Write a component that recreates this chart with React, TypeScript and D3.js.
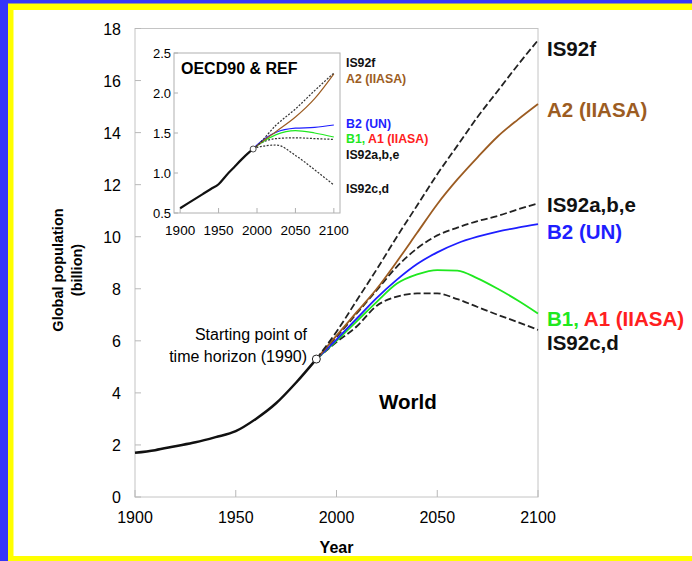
import React, { useEffect, useRef } from "react"
import * as d3 from "d3"

// world population, billions
const histYears = [1900, 1910, 1920, 1930, 1940, 1950, 1960, 1970, 1980, 1990]
const histPop = [1.7, 1.8, 1.95, 2.1, 2.3, 2.53, 3.0, 3.6, 4.4, 5.3]

const projYears = [1990, 2000, 2010, 2020, 2030, 2040, 2050, 2060, 2070, 2080, 2090, 2100]
const is92f = [5.3, 6.35, 7.55, 8.75, 10.0, 11.2, 12.4, 13.5, 14.6, 15.6, 16.6, 17.55]
const a2 = [5.3, 6.2, 7.1, 8.0, 9.05, 10.15, 11.25, 12.2, 13.05, 13.85, 14.5, 15.1]
const is92a = [5.3, 6.15, 7.05, 7.95, 8.85, 9.55, 10.05, 10.35, 10.6, 10.8, 11.05, 11.28]
const b2 = [5.3, 6.05, 6.85, 7.65, 8.35, 8.95, 9.4, 9.75, 10.0, 10.2, 10.35, 10.48]
const b1 = [5.3, 6.0, 6.75, 7.5, 8.2, 8.55, 8.72, 8.7, 8.4, 8.0, 7.55, 7.05]
const is92c = [5.3, 5.95, 6.55, 7.35, 7.7, 7.82, 7.82, 7.6, 7.3, 7.0, 6.72, 6.42]

// OECD90 & REF inset
const insetHistYears = [1900, 1910, 1920, 1930, 1940, 1950, 1960, 1970, 1980, 1990, 1995]
const insetHistPop = [0.56, 0.62, 0.68, 0.74, 0.8, 0.86, 0.97, 1.07, 1.17, 1.26, 1.3]
const insetYears = [1995, 2000, 2025, 2050, 2075, 2100]
const inIs92f = [1.3, 1.34, 1.6, 1.8, 2.03, 2.25]
const inA2 = [1.3, 1.34, 1.52, 1.7, 1.93, 2.24]
const inB2 = [1.3, 1.35, 1.51, 1.56, 1.57, 1.6]
const inB1 = [1.3, 1.34, 1.48, 1.53, 1.5, 1.45]
const inIs92a = [1.3, 1.34, 1.43, 1.44, 1.43, 1.42]
const inIs92c = [1.3, 1.32, 1.35, 1.22, 1.04, 0.85]

const yTicks = [0, 2, 4, 6, 8, 10, 12, 14, 16, 18]
const xTicks = [1900, 1950, 2000, 2050, 2100]
const insetYTicks = [0.5, 1.0, 1.5, 2.0, 2.5]
const insetXTicks = [1900, 1950, 2000, 2050, 2100]

const BROWN = "#9c5c22"
const BLUE = "#1e1eff"
const GREEN = "#1fe81f"
const RED = "#ff2020"
const FONT = "'Liberation Sans', Arial, Helvetica, sans-serif"

export default function App() {
    const ref = useRef<SVGSVGElement>(null)

    useEffect(() => {
        const svg = d3.select(ref.current)
        svg.selectAll("*").remove()

        // background frame
        svg.append("rect").attr("width", 692).attr("height", 561).attr("fill", "#3434f8")
        svg.append("rect").attr("x", 8).attr("y", 3.5).attr("width", 684).attr("height", 557.5).attr("fill", "#ffff00")
        svg.append("rect").attr("x", 13.5).attr("y", 10).attr("width", 678.5).attr("height", 546).attr("fill", "#ffffff")

        const x = d3.scaleLinear().domain([1900, 2100]).range([135, 538])
        const y = d3.scaleLinear().domain([0, 18]).range([497, 28.5])

        const g = svg.append("g").attr("font-family", FONT)

        g.append("rect")
            .attr("x", x(1900)).attr("y", y(18))
            .attr("width", x(2100) - x(1900)).attr("height", y(0) - y(18))
            .attr("fill", "none").attr("stroke", "#c4c4c4").attr("stroke-width", 1)

        yTicks.forEach(t => {
            g.append("line")
                .attr("x1", x(1900)).attr("x2", x(1900) + 6)
                .attr("y1", y(t)).attr("y2", y(t))
                .attr("stroke", "#b8b8b8")
            g.append("text")
                .attr("x", 121).attr("y", y(t) + 6)
                .attr("text-anchor", "end").attr("font-size", 16)
                .text(t)
        })
        xTicks.forEach(t => {
            g.append("line")
                .attr("x1", x(t)).attr("x2", x(t))
                .attr("y1", y(0)).attr("y2", y(0) - 7)
                .attr("stroke", "#b8b8b8")
            g.append("text")
                .attr("x", x(t)).attr("y", 523)
                .attr("text-anchor", "middle").attr("font-size", 16)
                .text(t)
        })
        g.append("text")
            .attr("x", x(2000)).attr("y", 553)
            .attr("text-anchor", "middle").attr("font-size", 16).attr("font-weight", "bold")
            .text("Year")
        g.append("text")
            .attr("transform", "translate(63,270) rotate(-90)")
            .attr("text-anchor", "middle").attr("font-size", 14.5).attr("font-weight", "bold")
            .text("Global population")
        g.append("text")
            .attr("transform", "translate(82,270) rotate(-90)")
            .attr("text-anchor", "middle").attr("font-size", 14.5).attr("font-weight", "bold")
            .text("(billion)")

        // ---- inset ----
        const ix = d3.scaleLinear().domain([1892, 2108]).range([174, 340])
        const iy = d3.scaleLinear().domain([0.5, 2.5]).range([213, 53])
        const inset = g.append("g")
        inset.append("rect")
            .attr("x", ix(1892)).attr("y", iy(2.5))
            .attr("width", ix(2108) - ix(1892)).attr("height", iy(0.5) - iy(2.5))
            .attr("fill", "#fff").attr("stroke", "#b0b0b0")
        insetYTicks.forEach(t => {
            inset.append("line")
                .attr("x1", ix(1892)).attr("x2", ix(1892) + 4)
                .attr("y1", iy(t)).attr("y2", iy(t)).attr("stroke", "#b0b0b0")
            inset.append("text")
                .attr("x", 171).attr("y", iy(t) + 4.5)
                .attr("text-anchor", "end").attr("font-size", 13)
                .text(d3.format(".1f")(t))
        })
        insetXTicks.forEach(t => {
            inset.append("line")
                .attr("x1", ix(t)).attr("x2", ix(t))
                .attr("y1", iy(0.5)).attr("y2", iy(0.5) - 5).attr("stroke", "#b0b0b0")
            inset.append("text")
                .attr("x", ix(t)).attr("y", 235)
                .attr("text-anchor", "middle").attr("font-size", 13.5)
                .text(t)
        })
        inset.append("text")
            .attr("x", 181).attr("y", 74)
            .attr("font-size", 16).attr("font-weight", "bold")
            .text("OECD90 & REF")

        const insetLine = d3.line<[number, number]>()
            .x(d => ix(d[0])).y(d => iy(d[1]))
            .curve(d3.curveMonotoneX)
        const insetSeries = [
            { v: inIs92c, color: "#333", dash: "2,1.5" },
            { v: inIs92a, color: "#333", dash: "2,1.5" },
            { v: inB1, color: GREEN, dash: null },
            { v: inB2, color: BLUE, dash: null },
            { v: inA2, color: BROWN, dash: null },
            { v: inIs92f, color: "#333", dash: "2,1.5" },
        ]
        insetSeries.forEach(s => {
            inset.append("path")
                .attr("d", insetLine(insetYears.map((yr, i) => [yr, s.v[i]] as [number, number])))
                .attr("fill", "none").attr("stroke", s.color)
                .attr("stroke-width", 1.2)
                .attr("stroke-dasharray", s.dash)
        })
        inset.append("path")
            .attr("d", d3.line<[number, number]>().x(d => ix(d[0])).y(d => iy(d[1])).curve(d3.curveMonotoneX)(
                insetHistYears.map((yr, i) => [yr, insetHistPop[i]] as [number, number])))
            .attr("fill", "none").attr("stroke", "#111").attr("stroke-width", 2.2)
        inset.append("circle")
            .attr("cx", ix(1995)).attr("cy", iy(1.3)).attr("r", 3)
            .attr("fill", "#fff").attr("stroke", "#222").attr("stroke-width", 0.8)

        const insetLabels = [
            { parts: [["IS92f", "#111"]], at: 2.38 },
            { parts: [["A2 (IIASA)", BROWN]], at: 2.18 },
            { parts: [["B2 (UN)", BLUE]], at: 1.62 },
            { parts: [["B1, ", GREEN], ["A1 (IIASA)", RED]], at: 1.43 },
            { parts: [["IS92a,b,e", "#111"]], at: 1.225 },
            { parts: [["IS92c,d", "#111"]], at: 0.8 },
        ]
        insetLabels.forEach(l => {
            const t = inset.append("text")
                .attr("x", 346).attr("y", iy(l.at) + 4.4)
                .attr("font-size", 12.3).attr("font-weight", "bold")
            l.parts.forEach(p => t.append("tspan").attr("fill", p[1]).text(p[0]))
        })

        // ---- main lines ----
        const line = d3.line<[number, number]>()
            .x(d => x(d[0])).y(d => y(d[1]))
            .curve(d3.curveMonotoneX)
        const series = [
            { v: is92c, color: "#222", dash: "7,3", label: [["IS92c,d", "#111"]], at: 5.92 },
            { v: is92a, color: "#222", dash: "7,3", label: [["IS92a,b,e", "#111"]], at: 11.22 },
            { v: b1, color: GREEN, dash: null, label: [["B1, ", GREEN], ["A1 (IIASA)", RED]], at: 6.86 },
            { v: b2, color: BLUE, dash: null, label: [["B2 (UN)", BLUE]], at: 10.19 },
            { v: a2, color: BROWN, dash: null, label: [["A2 (IIASA)", BROWN]], at: 14.9 },
            { v: is92f, color: "#222", dash: "7,3", label: [["IS92f", "#111"]], at: 17.24 },
        ]
        series.forEach(s => {
            g.append("path")
                .attr("d", line(projYears.map((yr, i) => [yr, s.v[i]] as [number, number])))
                .attr("fill", "none").attr("stroke", s.color)
                .attr("stroke-width", 1.8)
                .attr("stroke-dasharray", s.dash)
            const t = g.append("text")
                .attr("x", 547).attr("y", y(s.at) + 7.5)
                .attr("font-size", 20.5).attr("font-weight", "bold")
            s.label.forEach(p => t.append("tspan").attr("fill", p[1]).text(p[0]))
        })

        g.append("path")
            .attr("d", d3.line<[number, number]>().x(d => x(d[0])).y(d => y(d[1])).curve(d3.curveMonotoneX)(
                histYears.map((yr, i) => [yr, histPop[i]] as [number, number])))
            .attr("fill", "none").attr("stroke", "#111").attr("stroke-width", 2.5)
            .attr("stroke-linejoin", "round")
        g.append("circle")
            .attr("cx", x(1990)).attr("cy", y(5.3)).attr("r", 4)
            .attr("fill", "#fff").attr("stroke", "#222").attr("stroke-width", 1)

        g.append("text")
            .attr("x", 307).attr("y", 340)
            .attr("text-anchor", "end").attr("font-size", 16)
            .text("Starting point of")
        g.append("text")
            .attr("x", 307).attr("y", 362)
            .attr("text-anchor", "end").attr("font-size", 16)
            .text("time horizon (1990)")
        g.append("text")
            .attr("x", 379).attr("y", 409)
            .attr("font-size", 20.5).attr("font-weight", "bold")
            .text("World")
    }, [])

    return (
        <svg
            ref={ref}
            width={692}
            height={561}
            style={{ position: "absolute", left: 0, top: 0 }}
        />
    )
}
